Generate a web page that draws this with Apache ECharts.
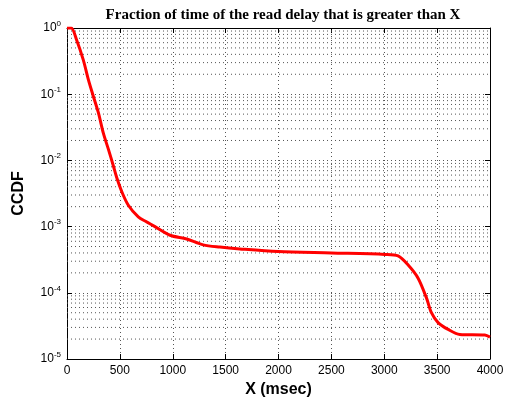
<!DOCTYPE html>
<html>
<head>
<meta charset="utf-8">
<script src="https://cdn.jsdelivr.net/npm/echarts@6/dist/echarts.min.js"></script>
<style>html,body{margin:0;padding:0;background:#fff}#c{width:515px;height:403px}</style>
</head>
<body>
<div id="c"></div>
<script>
var titleText = 'Fraction of time of the read delay that is greater than X';
var xName = 'X (msec)';
var yName = 'CCDF';
var xTicks = [0, 500, 1000, 1500, 2000, 2500, 3000, 3500, 4000];
var yDecades = [1e-5, 1e-4, 1e-3, 1e-2, 1e-1, 1];
var delayX = [0, 40, 91, 154, 202, 243, 296, 343, 391, 438, 470, 517, 580, 674, 753, 832, 974, 1131, 1288, 1446, 1635, 1997, 2501, 3006, 3131, 3228, 3320, 3400, 3446, 3509, 3604, 3715, 3951, 4000];
var ccdfY = [1, 1, 0.66, 0.33, 0.166, 0.10, 0.053, 0.026, 0.0148, 0.0083, 0.0055, 0.0034, 0.0021, 0.0014, 0.00118, 0.001, 0.00074, 0.00065, 0.00053, 0.00049, 0.00046, 0.00042, 0.00040, 0.00038, 0.00036, 0.00026, 0.000166, 0.000083, 0.00005, 0.0000355, 0.000028, 0.0000235, 0.000023, 0.0000214];

var pts = delayX.map(function (x, i) { return [x, ccdfY[i]]; });
var xMin = xTicks[0], xMax = xTicks[xTicks.length - 1];
var gridStyle = { color: '#555', width: 1, type: [1, 3] };
var series = [];
for (var d = 0; d < yDecades.length - 1; d++) {
  for (var k = 2; k <= 9; k++) {
    var v = yDecades[d] * k;
    series.push({
      type: 'line', data: [[xMin, v], [xMax, v]], silent: true, symbol: 'none',
      lineStyle: gridStyle, z: 1, emphasis: { disabled: true }
    });
  }
}
series.push({
  type: 'line', data: pts, xAxisIndex: 0, yAxisIndex: 0,
  showSymbol: false, symbol: 'none', smooth: 0.3,
  lineStyle: { color: '#ff0000', width: 3 }, z: 5
});
var chart = echarts.init(document.getElementById('c'), null, { renderer: 'canvas' });
chart.setOption({
  animation: false,
  backgroundColor: '#fff',
  title: {
    text: titleText, left: 278, textAlign: 'center', top: 3,
    textStyle: { fontFamily: 'Liberation Serif', fontWeight: 'bold', fontSize: 15, color: '#000' }
  },
  grid: { left: 67, right: 25, top: 28, bottom: 42 },
  xAxis: [{
    type: 'value', min: xMin, max: xMax, interval: 500, position: 'bottom',
    name: xName, nameLocation: 'middle', nameGap: 23,
    nameTextStyle: { fontFamily: 'Liberation Sans', fontWeight: 'bold', fontSize: 16, color: '#000' },
    axisLine: { show: true, onZero: false, lineStyle: { color: '#000', width: 1 } },
    axisTick: { show: true, inside: true, length: 5, lineStyle: { color: '#000' } },
    axisLabel: { fontFamily: 'Liberation Sans', fontSize: 12, color: '#000', margin: 6,
      formatter: function (v) { return String(v); } },
    splitLine: { show: true, lineStyle: gridStyle }
  }, {
    type: 'value', min: xMin, max: xMax, interval: 500, position: 'top',
    axisLine: { show: true, onZero: false, lineStyle: { color: '#000', width: 1 } },
    axisTick: { show: true, inside: true, length: 5, lineStyle: { color: '#000' } },
    axisLabel: { show: false }, splitLine: { show: false }
  }],
  yAxis: [{
    type: 'log', logBase: 10, min: 1e-5, max: 1, position: 'left',
    name: yName, nameLocation: 'middle', nameGap: 40,
    nameTextStyle: { fontFamily: 'Liberation Sans', fontWeight: 'bold', fontSize: 16, color: '#000' },
    axisLine: { show: true, onZero: false, lineStyle: { color: '#000', width: 1 } },
    axisTick: { show: true, inside: true, length: 5, lineStyle: { color: '#000' } },
    axisLabel: {
      margin: 6,
      formatter: function (v) { return '{b|10}{s|' + Math.round(Math.log10(v)) + '}'; },
      rich: {
        b: { fontFamily: 'Liberation Sans', fontSize: 12, color: '#000' },
        s: { fontFamily: 'Liberation Sans', fontSize: 8, color: '#000', padding: [0, 0, 9, 0] }
      }
    },
    splitLine: { show: true, lineStyle: gridStyle }
  }, {
    type: 'log', logBase: 10, min: 1e-5, max: 1, position: 'right',
    axisLine: { show: true, onZero: false, lineStyle: { color: '#000', width: 1 } },
    axisTick: { show: true, inside: true, length: 5, lineStyle: { color: '#000' } },
    axisLabel: { show: false }, splitLine: { show: false }
  }],
  series: series
});
</script>
</body>
</html>
